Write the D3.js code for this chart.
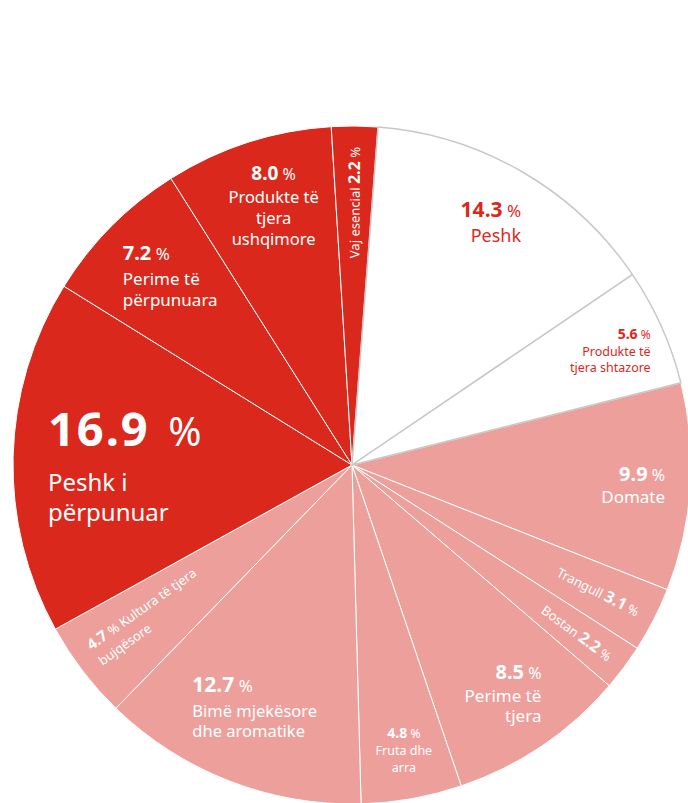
<!DOCTYPE html>
<html>
<head>
<meta charset="utf-8">
<script src="https://cdn.jsdelivr.net/npm/d3@7"></script>
<style>
  html, body { margin: 0; padding: 0; background: #fff; }
  svg { display: block; }
  text { font-family: "Noto Sans", Roboto, sans-serif; }
</style>
</head>
<body>
<svg id="chart" width="688" height="803"></svg>
<script>
// ---- DATA ----
const categories = [
  "Peshk", "Produkte të tjera shtazore", "Domate", "Trangull", "Bostan",
  "Perime të tjera", "Fruta dhe arra", "Bimë mjekësore dhe aromatike",
  "Kultura të tjera bujqësore", "Peshk i përpunuar", "Perime të përpunuara",
  "Produkte të tjera ushqimore", "Vaj esencial"
];
const values = [14.3, 5.6, 9.9, 3.1, 2.2, 8.5, 4.8, 12.7, 4.7, 16.9, 7.2, 8.0, 2.2];
const groups = ["white", "white", "pink", "pink", "pink", "pink", "pink", "pink", "pink",
                "red", "red", "red", "red"];
const labelLines = [
  ["Peshk"],
  ["Produkte të", "tjera shtazore"],
  ["Domate"],
  ["Trangull"],
  ["Bostan"],
  ["Perime të", "tjera"],
  ["Fruta dhe", "arra"],
  ["Bimë mjekësore", "dhe aromatike"],
  ["Kultura të tjera", "bujqësore"],
  ["Peshk i", "përpunuar"],
  ["Perime të", "përpunuara"],
  ["Produkte të", "tjera", "ushqimore"],
  ["Vaj esencial"]
];

// ---- STYLE / LAYOUT ----
const W = 688, H = 803;
const cx = 352, cy = 465, R = 339;
const startDeg = 4.4;
const fill = { white: "#ffffff", pink: "#eda09b", red: "#da291c" };
const textColor = { white: "#da291c", pink: "#ffffff", red: "#ffffff" };

// label layout: mode h = horizontal block, radial = along the radius
const layout = [
  { mode: "h", r: 300, da: 4.2, anchor: "end", num: 21, pct: 17, txt: 18, gaps: [25] },
  { mode: "h", r: 324, da: 1.3, anchor: "end", num: 14, pct: 12, txt: 12.5, gaps: [17, 16] },
  { mode: "h", r: 313.5, da: -0.8, anchor: "end", num: 20, pct: 16, txt: 17, gaps: [22] },
  { mode: "radialName", r: 322, num: 16, pct: 13, txt: 13 },
  { mode: "radialName", r: 322, num: 16, pct: 13, txt: 13 },
  { mode: "h", r: 286, da: -7.4, anchor: "end", num: 20, pct: 16, txt: 17, gaps: [23, 20] },
  { mode: "h", r: 277.7, da: -0.6, anchor: "middle", num: 14, pct: 12, txt: 12.5, gaps: [17, 17] },
  { mode: "h", r: 277.7, da: 13.8, anchor: "start", num: 21, pct: 17, txt: 16.5, gaps: [25, 20] },
  { mode: "radialLeft", r: 320, num: 15, pct: 13, txt: 13, dys: [-11, 8], rot: 2 },
  { mode: "h", r: 304.7, da: 2.1, anchor: "start", num: 47, pct: 40, txt: 24, gaps: [45, 30], ls: 2, pdx: 8 },
  { mode: "h", r: 307.3, da: -3.0, anchor: "start", num: 20, pct: 17, txt: 17, gaps: [25, 21] },
  { mode: "h", r: 295.2, da: 2.5, anchor: "middle", num: 19, pct: 16, txt: 16.5, gaps: [23, 21, 21] },
  { mode: "radialName", r: 318, num: 16, pct: 13, txt: 13 }
];

const data = categories.map((c, i) => ({ name: c, value: values[i], group: groups[i], lines: labelLines[i], lay: layout[i] }));

const toRad = d => d * Math.PI / 180;
const pie = d3.pie().sort(null).value(d => d.value)
  .startAngle(toRad(startDeg)).endAngle(toRad(startDeg) + 2 * Math.PI);
const arcs = pie(data);
const arc = d3.arc().innerRadius(0).outerRadius(R);

const svg = d3.select("#chart");
const g = svg.append("g").attr("transform", `translate(${cx},${cy})`);

// colored slices first, white slices on top (grey borders)
const ordered = arcs.filter(a => a.data.group !== "white").concat(arcs.filter(a => a.data.group === "white"));
g.selectAll("path.slice").data(ordered).join("path")
  .attr("class", "slice")
  .attr("d", arc)
  .attr("fill", d => fill[d.data.group])
  .attr("stroke", d => d.data.group === "white" ? "#c8c8c8" : "#ffffff")
  .attr("stroke-width", d => d.data.group === "white" ? 1.5 : 1)
  .attr("stroke-linejoin", "round");

const fmt = d3.format(".1f");
const midDeg = a => ((a.startAngle + a.endAngle) / 2) * 180 / Math.PI;

arcs.forEach(a => {
  const d = a.data, L = d.lay, col = textColor[d.group];
  const m = midDeg(a);
  if (L.mode === "h") {
    const ang = toRad(m + L.da);
    const x = L.r * Math.sin(ang), y = -L.r * Math.cos(ang);
    const t = g.append("text").attr("x", x).attr("y", y)
      .attr("text-anchor", L.anchor).attr("fill", col);
    t.append("tspan").attr("font-weight", 700).attr("font-size", L.num)
      .attr("letter-spacing", L.ls || 0).text(fmt(d.value));
    t.append("tspan").attr("font-size", L.pct).attr("dx", L.pdx || 0).text("\u00a0%");
    let yy = y;
    d.lines.forEach((ln, k) => {
      yy += L.gaps[k];
      g.append("text").attr("x", x).attr("y", yy).attr("text-anchor", L.anchor)
        .attr("fill", col).attr("font-size", L.txt).text(ln);
    });
  } else if (L.mode === "radialName") {
    const gg = g.append("g").attr("transform", `rotate(${m - 90}) translate(${L.r},0)`);
    const t = gg.append("text").attr("text-anchor", "end").attr("dy", "0.35em").attr("fill", col);
    t.append("tspan").attr("font-size", L.txt).text(d.lines[0] + "\u00a0");
    t.append("tspan").attr("font-weight", 700).attr("font-size", L.num).text(fmt(d.value));
    t.append("tspan").attr("font-size", L.pct).text("\u00a0%");
  } else if (L.mode === "radialLeft") {
    const gg = g.append("g").attr("transform", `rotate(${m + 90}) translate(${-L.r},0) rotate(${L.rot || 0})`);
    const t = gg.append("text").attr("text-anchor", "start").attr("y", L.dys[0]).attr("fill", col);
    t.append("tspan").attr("font-weight", 700).attr("font-size", L.num).text(fmt(d.value));
    t.append("tspan").attr("font-size", L.pct).text("\u00a0%\u00a0");
    t.append("tspan").attr("font-size", L.txt).text(d.lines[0]);
    gg.append("text").attr("text-anchor", "start").attr("y", L.dys[1])
      .attr("fill", col).attr("font-size", L.txt).text(d.lines[1]);
  }
});
</script>
</body>
</html>
